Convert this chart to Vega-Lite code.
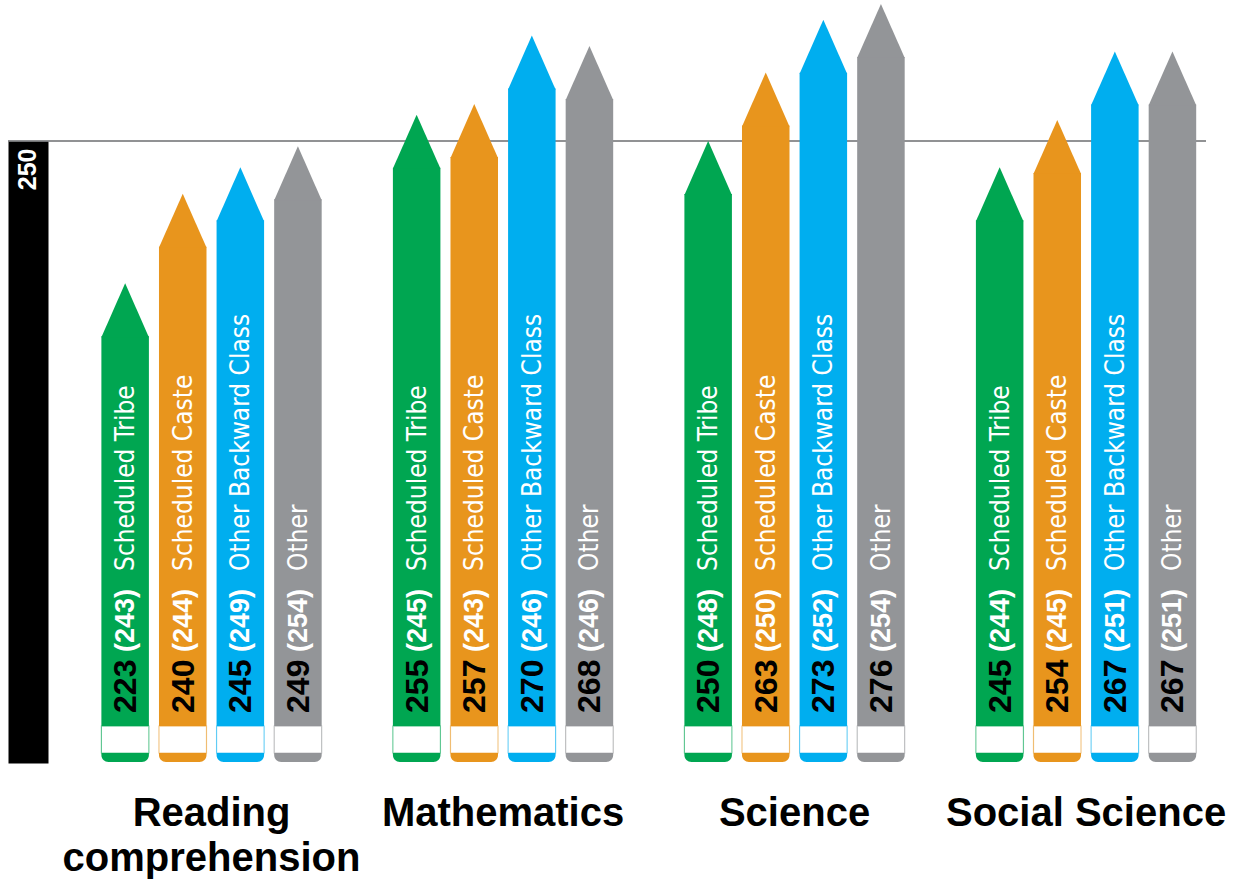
{
  "$schema": "https://vega.github.io/schema/vega-lite/v6.json",
  "width": 1198,
  "height": 622,
  "autosize": {"type": "none"},
  "padding": {"left": 8, "top": 141, "right": 39, "bottom": 121},
  "background": "white",
  "config": {"view": {"stroke": null}},
  "data": {
    "values": [
      {"subject": "Reading comprehension", "group": "Scheduled Tribe", "score": 223, "prev": 243},
      {"subject": "Reading comprehension", "group": "Scheduled Caste", "score": 240, "prev": 244},
      {"subject": "Reading comprehension", "group": "Other Backward Class", "score": 245, "prev": 249},
      {"subject": "Reading comprehension", "group": "Other", "score": 249, "prev": 254},
      {"subject": "Mathematics", "group": "Scheduled Tribe", "score": 255, "prev": 245},
      {"subject": "Mathematics", "group": "Scheduled Caste", "score": 257, "prev": 243},
      {"subject": "Mathematics", "group": "Other Backward Class", "score": 270, "prev": 246},
      {"subject": "Mathematics", "group": "Other", "score": 268, "prev": 246},
      {"subject": "Science", "group": "Scheduled Tribe", "score": 250, "prev": 248},
      {"subject": "Science", "group": "Scheduled Caste", "score": 263, "prev": 250},
      {"subject": "Science", "group": "Other Backward Class", "score": 273, "prev": 252},
      {"subject": "Science", "group": "Other", "score": 276, "prev": 254},
      {"subject": "Social Science", "group": "Scheduled Tribe", "score": 245, "prev": 244},
      {"subject": "Social Science", "group": "Scheduled Caste", "score": 254, "prev": 245},
      {"subject": "Social Science", "group": "Other Backward Class", "score": 267, "prev": 251},
      {"subject": "Social Science", "group": "Other", "score": 267, "prev": 251}
    ]
  },
  "layer": [
    {
      "data": {"values": [{"ref": 250}]},
      "mark": {"type": "rule", "color": "#6d6e71", "strokeWidth": 1.5},
      "encoding": {
        "y": {
          "field": "ref",
          "type": "quantitative",
          "scale": {"domain": [132, 250], "nice": false, "zero": false},
          "axis": {
            "values": [250],
            "title": "250",
            "titleAngle": 270,
            "titleAlign": "right",
            "titleBaseline": "middle",
            "titleX": -1,
            "titleY": 7,
            "titleColor": "white",
            "titleFont": "Liberation Sans",
            "titleFontWeight": "bold",
            "titleFontSize": 25,
            "domain": true,
            "domainColor": "black",
            "domainWidth": 40,
            "offset": -20,
            "ticks": false,
            "tickSize": 0,
            "grid": false,
            "labels": false
          }
        }
      }
    },
    {
      "mark": {"type": "bar", "yOffset": 53, "cornerRadiusBottomLeft": 7, "cornerRadiusBottomRight": 7},
      "encoding": {
        "x": {
          "field": "subject",
          "type": "nominal",
          "sort": ["Reading comprehension", "Mathematics", "Science", "Social Science"],
          "scale": {"paddingInner": 0.2443, "paddingOuter": 0.177, "align": 0.905},
          "axis": {
            "title": null,
            "domain": false,
            "ticks": false,
            "labelAngle": 0,
            "labelFont": "Liberation Sans",
            "labelFontWeight": "bold",
            "labelFontSize": 40,
            "labelColor": "black",
            "labelPadding": 30,
            "labelBaseline": "top",
            "labelLineHeight": 45,
            "labelLimit": 500,
            "labelOverlap": false,
            "labelExpr": "datum.label == 'Reading comprehension' ? ['Reading', 'comprehension'] : datum.label"
          }
        },
        "xOffset": {
          "field": "group",
          "type": "nominal",
          "sort": ["Scheduled Tribe", "Scheduled Caste", "Other Backward Class", "Other"],
          "scale": {"paddingInner": 0.175, "paddingOuter": 0}
        },
        "y": {"field": "score", "type": "quantitative"},
        "y2": {"datum": 132.2},
        "color": {
          "field": "group",
          "type": "nominal",
          "scale": {
            "domain": ["Scheduled Tribe", "Scheduled Caste", "Other Backward Class", "Other"],
            "range": ["#00a651", "#e8951d", "#00aeef", "#939598"]
          },
          "legend": null
        }
      }
    },
    {
      "mark": {"type": "point", "shape": "M0,0L1,2.27L-1,2.27Z", "size": 2256, "filled": true, "opacity": 1, "strokeWidth": 0},
      "encoding": {
        "x": {"field": "subject", "type": "nominal", "sort": ["Reading comprehension", "Mathematics", "Science", "Social Science"]},
        "xOffset": {"field": "group", "type": "nominal", "sort": ["Scheduled Tribe", "Scheduled Caste", "Other Backward Class", "Other"]},
        "y": {"field": "score", "type": "quantitative"},
        "color": {"field": "group", "type": "nominal", "legend": null}
      }
    },
    {
      "mark": {"type": "bar", "fill": "white", "strokeWidth": 1.2, "strokeOpacity": 0.5},
      "encoding": {
        "x": {"field": "subject", "type": "nominal", "sort": ["Reading comprehension", "Mathematics", "Science", "Social Science"]},
        "xOffset": {"field": "group", "type": "nominal", "sort": ["Scheduled Tribe", "Scheduled Caste", "Other Backward Class", "Other"]},
        "y": {"datum": 139.0},
        "y2": {"datum": 133.9},
        "stroke": {
          "field": "group",
          "type": "nominal",
          "scale": {
            "domain": ["Scheduled Tribe", "Scheduled Caste", "Other Backward Class", "Other"],
            "range": ["#00a651", "#e8951d", "#00aeef", "#939598"]
          },
          "legend": null
        }
      }
    },
    {
      "mark": {"type": "text", "angle": 270, "align": "left", "baseline": "middle", "dy": 1, "font": "Liberation Sans", "fontWeight": "bold", "fontSize": 32, "color": "black"},
      "encoding": {
        "x": {"field": "subject", "type": "nominal", "sort": ["Reading comprehension", "Mathematics", "Science", "Social Science"]},
        "xOffset": {"field": "group", "type": "nominal", "sort": ["Scheduled Tribe", "Scheduled Caste", "Other Backward Class", "Other"]},
        "y": {"datum": 141.5},
        "text": {"field": "score", "type": "quantitative", "format": "d"}
      }
    },
    {
      "mark": {"type": "text", "angle": 270, "align": "left", "baseline": "middle", "dx": 61, "dy": 1, "font": "Liberation Sans", "fontWeight": "bold", "fontSize": 27, "color": "white", "text": {"expr": "'(' + datum.prev + ')'"}},
      "encoding": {
        "x": {"field": "subject", "type": "nominal", "sort": ["Reading comprehension", "Mathematics", "Science", "Social Science"]},
        "xOffset": {"field": "group", "type": "nominal", "sort": ["Scheduled Tribe", "Scheduled Caste", "Other Backward Class", "Other"]},
        "y": {"datum": 141.5}
      }
    },
    {
      "mark": {"type": "text", "angle": 270, "align": "left", "baseline": "middle", "dx": 142, "dy": 1, "font": "DejaVu Sans Condensed, sans-serif", "fontSize": 26, "color": "white"},
      "encoding": {
        "x": {"field": "subject", "type": "nominal", "sort": ["Reading comprehension", "Mathematics", "Science", "Social Science"]},
        "xOffset": {"field": "group", "type": "nominal", "sort": ["Scheduled Tribe", "Scheduled Caste", "Other Backward Class", "Other"]},
        "y": {"datum": 141.5},
        "text": {"field": "group", "type": "nominal"}
      }
    }
  ]
}
